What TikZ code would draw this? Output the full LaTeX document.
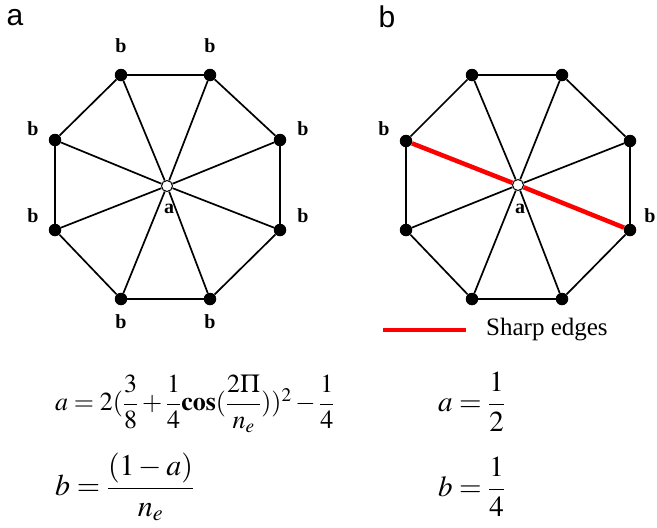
\documentclass[tikz,border=0pt]{standalone}
\usepackage{amsmath}
\usepackage{mathptmx}
\usepackage{fontspec}
\setmainfont{Liberation Serif}
\newfontfamily\panelfont{Liberation Sans}
\begin{document}
\begin{tikzpicture}[x=1pt,y=-1pt,
  vdot/.style={circle,fill=black,inner sep=0pt,minimum size=12.5pt},
  cdot/.style={circle,draw=black,fill=white,line width=1pt,inner sep=0pt,minimum size=11pt},
  edge/.style={line width=1.7pt,black},
  sharp/.style={line width=4.5pt,red},
  vlab/.style={font=\fontsize{20}{20}\selectfont\bfseries,inner sep=0pt},
  panel/.style={font=\panelfont\fontsize{30}{30}\selectfont,inner sep=0pt},
  eq/.style={font=\fontsize{26}{26}\selectfont,inner sep=0pt,anchor=west}]
\useasboundingbox (0,0) rectangle (657,528);
% panel letters
\node[panel] (pa) at (15,18) {a};
\node[panel] (pb) at (387,17) {b};
% left octagon
\foreach \n/\x/\y in {1/121/75,2/210/75,3/280/140,4/280/230,5/210/299,6/121/299,7/55/230,8/55/140}
  \node[vdot] (L\n) at (\x,\y) {};
\node[cdot] (LC) at (167,186) {};
\foreach \a/\b in {1/2,2/3,3/4,4/5,5/6,6/7,7/8,8/1}
  \draw[edge] (L\a) -- (L\b);
\foreach \a in {1,...,8}
  \draw[edge] (L\a) -- (LC);
% right octagon
\foreach \n/\x/\y in {1/472/75,2/562/75,3/630/141,4/630/230,5/562/299,6/472/299,7/406/230,8/406/141}
  \node[vdot] (R\n) at (\x,\y) {};
\node[cdot] (RC) at (518,185) {};
\foreach \a/\b in {1/2,2/3,3/4,4/5,5/6,6/7,7/8,8/1}
  \draw[edge] (R\a) -- (R\b);
\foreach \a in {1,2,3,5,6,7}
  \draw[edge] (R\a) -- (RC);
\draw[sharp] (R8) -- (RC);
\draw[sharp] (RC) -- (R4);
% vertex labels left
\node[vlab] (lb1) at (121,46) {b};
\node[vlab] (lb2) at (210,46) {b};
\node[vlab] (lb3) at (303,129) {b};
\node[vlab] (lb4) at (303,216) {b};
\node[vlab] (lb5) at (210,322) {b};
\node[vlab] (lb6) at (121,322) {b};
\node[vlab] (lb7) at (33,216) {b};
\node[vlab] (lb8) at (33,129) {b};
\node[vlab] (la) at (169,209) {a};
% vertex labels right
\node[vlab] (rb8) at (384,129) {b};
\node[vlab] (rb4) at (650,216) {b};
\node[vlab] (ra) at (520,209) {a};
% legend
\coordinate (lg1) at (383,330);
\coordinate (lg2) at (466,330);
\draw[sharp] (lg1) -- (lg2);
\node[font=\fontsize{25}{25}\selectfont,anchor=west,inner sep=0pt] (lgt) at (486,330) {Sharp edges};
% formulas
\node[eq] (fa) at (55,404) {$a=2(\dfrac{3}{8}+\dfrac{1}{4}\mathbf{cos}(\dfrac{2\Pi}{n_e}))^2-\dfrac{1}{4}$};
\node[eq,font=\fontsize{30}{30}\selectfont] (fb) at (55,487) {$b=\dfrac{(1-a)}{n_e}$};
\node[eq,font=\fontsize{29}{29}\selectfont] (fa2) at (438,402) {$a=\dfrac{1}{2}$};
\node[eq,font=\fontsize{29}{29}\selectfont] (fb2) at (438,487) {$b=\dfrac{1}{4}$};
\end{tikzpicture}
\end{document}
